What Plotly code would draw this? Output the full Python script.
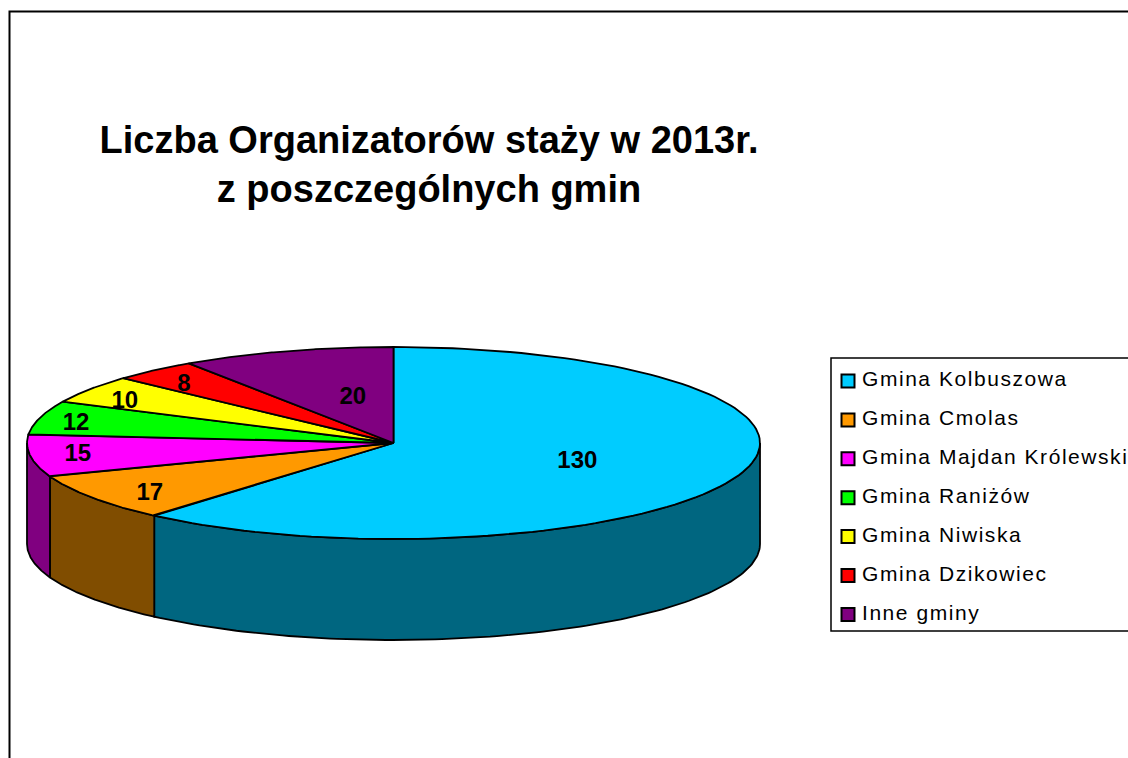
import numpy as np
import plotly.graph_objects as go

categories = ["Gmina Kolbuszowa", "Gmina Cmolas", "Gmina Majdan Królewski", "Gmina Raniżów",
              "Gmina Niwiska", "Gmina Dzikowiec", "Inne gminy"]
values = [130, 17, 15, 12, 10, 8, 20]
colors = ["#00CCFF", "#FF9900", "#FF00FF", "#00FF00", "#FFFF00", "#FF0000", "#800080"]
wall_colors = ["#006680", "#804D00", "#800080", "#008000", "#808000", "#800000", "#400040"]
title_lines = ["Liczba Organizatorów staży w 2013r.", "z poszczególnych gmin"]

# layout of the drawing, in page pixels
CX, CY, RX, RY, DEPTH = 393.5, 443, 366.5, 96, 101
label_rx = [0.535, 0.81, 0.869, 0.898, 0.884, 0.876, 0.38]
label_ry = [0.51, 0.89, 0.79, 0.83, 0.80, 0.826, 0.51]
LABEL_DY = 2
LEGEND_X, LEGEND_TEXT_X, LEGEND_Y0, LEGEND_STEP = 848, 862, 381, 38.9
FONT = "Liberation Sans, Arial, sans-serif"

total = sum(values)
edges = np.cumsum([0] + values) / total * 2 * np.pi


def rim(a0, a1, n=120):
    t = np.linspace(a0, a1, n)
    return CX + RX * np.sin(t), CY - RY * np.cos(t)


fig = go.Figure()
LINE = dict(color="black", width=1.8)

# side walls: only the front half (90 to 270 degrees) shows
for i, (a0, a1) in enumerate(zip(edges[:-1], edges[1:])):
    lo, hi = max(a0, np.pi / 2), min(a1, 3 * np.pi / 2)
    if lo >= hi:
        continue
    x, y = rim(lo, hi)
    fig.add_trace(go.Scatter(
        x=np.r_[x, x[::-1], x[0]], y=np.r_[y, y[::-1] + DEPTH, y[0]],
        mode="lines", fill="toself", fillcolor=wall_colors[i], line=LINE,
        hoverinfo="skip", showlegend=False))

# top face
for i, (a0, a1) in enumerate(zip(edges[:-1], edges[1:])):
    x, y = rim(a0, a1)
    fig.add_trace(go.Scatter(
        x=np.r_[CX, x, CX], y=np.r_[CY, y, CY],
        mode="lines", fill="toself", fillcolor=colors[i], line=LINE,
        name=categories[i], hoverinfo="name", showlegend=False))

# value labels
mid = (edges[:-1] + edges[1:]) / 2
fig.add_trace(go.Scatter(
    x=CX + RX * np.array(label_rx) * np.sin(mid),
    y=CY - RY * np.array(label_ry) * np.cos(mid) + LABEL_DY,
    mode="text", text=[str(v) for v in values],
    textfont=dict(family=FONT, size=24, color="black", weight="bold"),
    textposition="middle center", hoverinfo="skip", showlegend=False))

# legend entries
legend_y = [LEGEND_Y0 + i * LEGEND_STEP for i in range(len(categories))]
fig.add_trace(go.Scatter(
    x=[LEGEND_X] * len(categories), y=legend_y, mode="markers",
    marker=dict(symbol="square", size=13, color=colors, line=dict(color="black", width=2)),
    hoverinfo="skip", showlegend=False))
fig.add_trace(go.Scatter(
    x=[LEGEND_TEXT_X] * len(categories), y=legend_y, mode="text",
    text=categories, textposition="middle right",
    textfont=dict(family=FONT, size=21, color="black"),
    hoverinfo="skip", showlegend=False))

fig.update_layout(
    width=1128, height=758, margin=dict(l=0, r=0, t=0, b=0),
    paper_bgcolor="white", plot_bgcolor="white", showlegend=False,
    xaxis=dict(range=[0, 1128], visible=False, fixedrange=True),
    yaxis=dict(range=[758, 0], visible=False, fixedrange=True),
    title=dict(text="<br>".join(title_lines), x=429 / 1128, xanchor="center",
               y=1 - 153 / 758, yanchor="middle", yref="container",
               font=dict(family=FONT, size=38, color="black", weight="bold")),
    shapes=[
        dict(type="rect", xref="x", yref="y", x0=9.5, y0=11.5, x1=1160, y1=800,
             line=dict(color="black", width=2), layer="below"),
        dict(type="rect", xref="x", yref="y", x0=831, y0=358, x1=1160, y1=631,
             line=dict(color="black", width=1.5), layer="below"),
    ],
)
post = """
document.body.style.margin='0';document.body.style.overflow='hidden';
function spaceLegend(){
  document.querySelectorAll('.textpoint text').forEach(function(t){
    if(t.getAttribute('text-anchor')==='start'){t.style.letterSpacing='1.55px';}
  });
}
spaceLegend();setTimeout(spaceLegend,0);setTimeout(spaceLegend,100);
"""
fig.write_html("out.html", config={"displayModeBar": False}, post_script=post)
